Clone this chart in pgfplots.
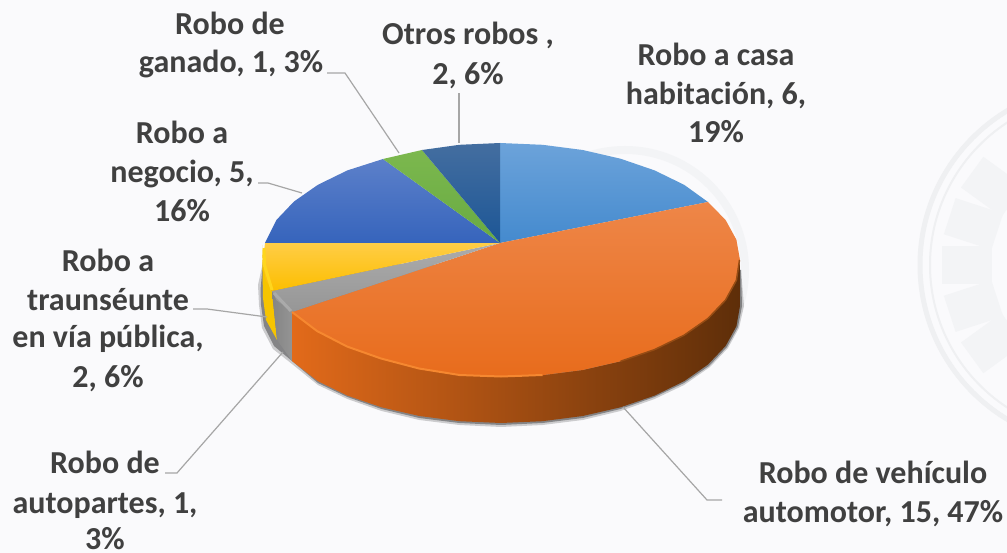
\documentclass[border=0pt]{standalone}
\usepackage{pgfplots}
\pgfplotsset{compat=1.18}
\usepackage{fontspec}
\setmainfont{Carlito}
\definecolor{txt}{HTML}{404040}
\definecolor{lead}{HTML}{A6A6A6}
\definecolor{bgc}{HTML}{FAFAFC}
\definecolor{wm}{HTML}{EFF0F2}
\definecolor{wmb}{HTML}{F3F4F6}
\newcommand{\lab}[3]{\node[font=\fontsize{32}{38}\selectfont\bfseries,text=txt,anchor=base,inner sep=0pt] at (axis cs:#1,#2) {#3};}
\begin{document}
\begin{tikzpicture}
\begin{axis}[
  width=1007pt,height=553pt,scale only axis,
  xmin=0,xmax=1007,ymin=0,ymax=553,y dir=reverse,
  hide axis,clip mode=global,no markers]
% background
\addplot[draw=none,fill=bgc] coordinates {(0,0)(1007,0)(1007,553)(0,553)} --cycle;
% watermark seals
\draw[wm,line width=5pt] (axis cs:1100,265) circle[radius=180];
\draw[wm,line width=2pt] (axis cs:1100,265) circle[radius=170];
\pgfplotsinvokeforeach{144,162,180,198,216}{
  \draw[wmb,line width=38pt] (axis cs:{1100+158*cos(#1)},{265+158*sin(#1)}) -- (axis cs:{1100+108*cos(#1)},{265+108*sin(#1)});
}
\draw[wmb,line width=8pt] (axis cs:625,270) circle[radius=120];
% shadow
\addplot[draw=none,fill=black,fill opacity=.18] coordinates {(263,262)(258,285)(259,305)(262,328)(273,349)(292,364)(317.9,385)(347.4,399)(381.5,411)(419.3,420)(459.5,425)(501,427)(542.5,425)(582.7,420)(620.5,411)(654.6,399)(684.1,385)(710,367)(728,348)(739,328)(744,306)(741,270)} --cycle;
\addplot[draw=none,fill=black,fill opacity=.35] coordinates {(263,262)(260.5,290)(261,305)(264,326)(274,346)(292,361)(317.9,383)(347.4,397)(381.5,409)(419.3,418)(459.5,423)(501,425)(542.5,423)(582.7,418)(620.5,409)(654.6,397)(684.1,383)(709,366)(727,347)(738,327)(742,306)(741,270)} --cycle;
% walls
\addplot[draw=none,fill={rgb,255:red,246;green,196;blue,0}] coordinates {(262,245)(263,265)(272,292)(277,340)(266,320)(263,298)} --cycle;
\addplot[draw=none,left color=black!48,right color=black!42] coordinates {(272,292)(292,311)(292,361)(277,340)} --cycle;
\addplot[draw=none,left color={rgb,255:red,226;green,106;blue,26},middle color={rgb,255:red,126;green,60;blue,14},right color={rgb,255:red,94;green,46;blue,9}] coordinates {(292,312)(317,331)(347,346.5)(381,358.5)(419,368.5)(459.5,375)(501,377)(542.5,375.2)(582.7,370)(620.5,361.3)(654.6,349.6)(684.1,335.2)(708,318.5)(725.6,300)(736.4,280.3)(740,260)(740,306)(736.4,326.3)(725.6,346)(708,364.5)(684.1,381.2)(654.6,395.6)(620.5,407.3)(582.7,416)(542.5,421.2)(501,423)(459.5,421.2)(419.3,416)(381.5,407.3)(347.4,395.6)(317.9,381.2)(292,361)} --cycle;
% top surface, one wedge per category
\addplot[draw=none,top color={rgb,255:red,108;green,163;blue,218},bottom color={rgb,255:red,68;green,138;blue,206}] coordinates {(500,243)(500,143)(542.5,144.8)(582.7,150)(620.5,158.7)(654.6,170.4)(684.1,184.8)(708,202)} --cycle;
\addplot[draw=none,top color={rgb,255:red,238;green,134;blue,72},bottom color={rgb,255:red,232;green,108;blue,28}] coordinates {(500,243)(708,202)(725.6,220)(736.4,239.7)(740,260)(736.4,280.3)(725.6,300)(708,318.5)(684.1,335.2)(654.6,349.6)(620.5,361.3)(582.7,370)(542.5,375.2)(501,377)(459.5,375)(419,368.5)(381,358.5)(347,346.5)(317,331)(292,312)} --cycle;
\addplot[draw=none,top color={rgb,255:red,172;green,172;blue,172},bottom color={rgb,255:red,150;green,150;blue,150}] coordinates {(500,243)(272,291)(276.4,300)(292,312)} --cycle;
\addplot[draw=none,top color={rgb,255:red,255;green,205;blue,70},bottom color={rgb,255:red,252;green,190;blue,0}] coordinates {(500,243)(265,243)(263,262)(265.6,280)(272,291)} --cycle;
\addplot[draw=none,top color={rgb,255:red,92;green,128;blue,202},bottom color={rgb,255:red,54;green,100;blue,188}] coordinates {(500,243)(383,159)(347.4,170.4)(317.9,184.8)(294,201.5)(276.4,220)(265,243)} --cycle;
\addplot[draw=none,top color={rgb,255:red,124;green,184;blue,78},bottom color={rgb,255:red,104;green,170;blue,66}] coordinates {(500,243)(422,150)(383,159)} --cycle;
\addplot[draw=none,top color={rgb,255:red,68;green,110;blue,160},bottom color={rgb,255:red,28;green,86;blue,150}] coordinates {(500,243)(500,143)(459.5,144.8)(422,150)} --cycle;
% rim bevel
\addplot[color={rgb,255:red,246;green,136;blue,48},line width=2pt] coordinates {(292,312)(317,331)(347,346.5)(381,358.5)(419,368.5)(459.5,375)(501,376.5)(542.5,375)};
\addplot[color={rgb,255:red,150;green,76;blue,20},line width=1.5pt] coordinates {(620.5,361.3)(654.6,349.6)(684.1,335.2)(708,318.5)(725.6,300)(736.4,280.3)(739.5,260)};
\addplot[color={rgb,255:red,255;green,214;blue,30},line width=3pt] coordinates {(264,248)(264.5,265)(272,290)};
\addplot[color={rgb,255:red,170;green,170;blue,170},line width=3pt] coordinates {(274,293)(291,311)};
% leader lines
\addplot[lead,line width=1.2pt] coordinates {(327,73)(345,73)(399,153)};
\addplot[lead,line width=1.2pt] coordinates {(459,143)(459,93)};
\addplot[lead,line width=1.2pt] coordinates {(258,183)(268,183)(302,193)};
\addplot[lead,line width=1.2pt] coordinates {(193,309)(207,309)(267,317)};
\addplot[lead,line width=1.2pt] coordinates {(165,473)(177,473)(283,352)};
\addplot[lead,line width=1.2pt] coordinates {(623,407)(707,500)(722,500)};
% labels
\lab{230}{35}{Robo de}
\lab{231}{73}{ganado, 1, 3\%}
\lab{468}{45}{Otros robos ,}
\lab{468}{85}{2, 6\%}
\lab{716}{66}{Robo a casa}
\lab{716}{105}{habitación, 6,}
\lab{716}{143}{19\%}
\lab{182}{144}{Robo a}
\lab{182}{183}{negocio, 5,}
\lab{182}{222}{16\%}
\lab{108}{272}{Robo a}
\lab{108}{311}{traunséunte}
\lab{108}{348}{en vía pública,}
\lab{108}{387}{2, 6\%}
\lab{105}{473}{Robo de}
\lab{105}{513}{autopartes, 1,}
\lab{105}{549}{3\%}
\lab{873}{483}{Robo de vehículo}
\lab{873}{522}{automotor, 15, 47\%}
\end{axis}
\end{tikzpicture}
\end{document}
